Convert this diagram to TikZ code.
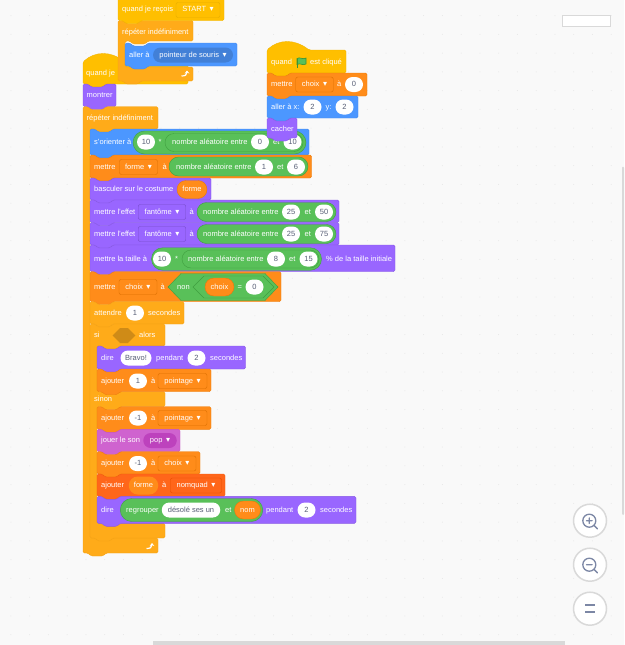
\documentclass[tikz,border=0pt]{standalone}
\usepackage{fontspec}
\setmainfont{Liberation Sans}
\newfontfamily\symbfont{DejaVu Sans}
\usetikzlibrary{shapes.misc}
\usetikzlibrary{arrows.meta}

\definecolor{bgc}{HTML}{F9F9F9}
\definecolor{dotc}{HTML}{E6E6E6}
\definecolor{motionc}{HTML}{4C97FF}
\definecolor{motiond}{HTML}{4280D7}
\definecolor{looksc}{HTML}{9966FF}
\definecolor{looksd}{HTML}{774DCB}
\definecolor{soundc}{HTML}{CF63CF}
\definecolor{soundd}{HTML}{BD42BD}
\definecolor{eventc}{HTML}{FFBF00}
\definecolor{eventd}{HTML}{E6AC00}
\definecolor{controlc}{HTML}{FFAB19}
\definecolor{controld}{HTML}{EC9C13}
\definecolor{hexc}{HTML}{CF8B17}
\definecolor{varc}{HTML}{FF8C1A}
\definecolor{vard}{HTML}{DB6E00}
\definecolor{listc}{HTML}{FF661A}
\definecolor{listd}{HTML}{E64D00}
\definecolor{opc}{HTML}{59C059}
\definecolor{opd}{HTML}{389438}
\definecolor{ovaltxt}{HTML}{575E75}
\definecolor{iconc}{HTML}{7C87A5}
\definecolor{ringc}{HTML}{D9D9D9}

\newcommand{\caret}{\hspace{3.5pt}{\symbfont\fontsize{8}{8}\selectfont ▾}}
\newcommand{\stackblock}[5]{
	\draw[#5,rounded corners=1.5] (#1,#2) -- (#1+5,#2) -- (#1+8,#2+3) -- (#1+20,#2+3) -- (#1+23,#2) -- (#3,#2) -- (#3,#4)
		-- (#1+23,#4) -- (#1+20,#4+3) -- (#1+8,#4+3) -- (#1+5,#4) -- (#1,#4) -- cycle;
}
\newcommand{\hatblock}[5]{
	\draw[#5,rounded corners=1.5] (#1,#2) .. controls (#1+12,#2-11) and (#1+28,#2-11) .. (#1+42,#2) -- (#3,#2) -- (#3,#4)
		-- (#1+23,#4) -- (#1+20,#4+3) -- (#1+8,#4+3) -- (#1+5,#4) -- (#1,#4) -- cycle;
}
\newcommand{\cblock}[7]{
	\draw[#7,rounded corners=1.5] (#1,#2) -- (#1+5,#2) -- (#1+8,#2+3) -- (#1+20,#2+3) -- (#1+23,#2) -- (#3,#2) -- (#3,#4)
		-- (#1+30,#4) -- (#1+27,#4+3) -- (#1+15,#4+3) -- (#1+12,#4) -- (#1+7,#4) -- (#1+7,#5) -- (#3,#5) -- (#3,#6)
		-- (#1+23,#6) -- (#1+20,#6+3) -- (#1+8,#6+3) -- (#1+5,#6) -- (#1,#6) -- cycle;
}

\begin{document}
\begin{tikzpicture}[
	x=1pt,
	y=-1pt,
	line width=0.4pt,
	font=\fontsize{7.5}{9}\selectfont
]
\tikzset{
	lbl/.style = {anchor=west,text=white,inner sep=0pt,text height=5.5pt,text depth=1.5pt},
	oval/.style = {rounded rectangle,fill=white,text=ovaltxt,inner sep=0pt,minimum width=18pt,minimum height=15pt,text height=5.5pt,text depth=1.5pt},
	drop/.style = {rectangle,rounded corners=2,text=white,inner sep=0pt,minimum height=15pt,text height=5.5pt,text depth=1.5pt},
	varpill/.style = {rounded rectangle,fill=varc,draw=vard!60!varc,text=white,inner sep=0pt,minimum height=18pt,text height=5.5pt,text depth=1.5pt},
	oppill/.style = {rounded rectangle,fill=opc,draw=opd!75!opc,inner sep=0pt},
	motion/.style = {fill=motionc,draw=motiond!50!motionc},
	looks/.style = {fill=looksc,draw=looksd!50!looksc},
	sound/.style = {fill=soundc,draw=soundd!50!soundc},
	event/.style = {fill=eventc,draw=eventd!50!eventc},
	control/.style = {fill=controlc,draw=controld!50!controlc},
	vars/.style = {fill=varc,draw=vard!50!varc},
	lists/.style = {fill=listc,draw=listd!50!listc},
	zoomring/.style = {circle,fill=white,draw=ringc,line width=1.5pt,minimum size=33pt,inner sep=0pt},
	zoomicon/.style = {draw=iconc,line width=1.3pt,line cap=round}
}
\useasboundingbox (0,0) rectangle (624,645);
\fill[bgc] (0,0) rectangle (624,645);
\foreach \i in {0,...,32} {
	\foreach \j in {0,...,33} {
		\fill[dotc] (10.9+18.76*\i,15.6+18.76*\j) circle (0.5);
	}
}
% left hat behind the other script
\hatblock{83}{62}{188}{84}{event}
\node[lbl] at (86,73) (hatjeL) {quand je};
% script on top
\cblock{118}{20.5}{193}{41}{67}{81}{control}
\stackblock{118}{-8}{224}{20.5}{event}
\node[lbl] at (122,10) (recoisL) {quand je reçois};
\node[drop,draw=eventd,fill=eventc,minimum width=44pt] at (198,10) (recoisD) {START\caret};
\node[lbl] at (122,32) (repeatTopL) {répéter indéfiniment};
\stackblock{125}{43}{237}{66}{motion}
\node[lbl] at (129,55) (allerL) {aller à};
\node[rounded rectangle,fill=motiond,text=white,inner sep=0pt,minimum width=80pt,minimum height=15pt,text height=5.5pt,text depth=1.5pt] at (193,55) (allerD) {pointeur de souris\caret};
\draw[white,line width=1.2pt,-{Stealth[length=3pt,width=4.5pt]}] (181.5,76) .. controls (185,76) and (187,75) .. (187,70.5);
% main script
\stackblock{83}{84}{116}{106.7}{looks}
\node[lbl] at (86.5,95) (montrerL) {montrer};
\cblock{83}{106.7}{158}{129}{538}{553}{control}
\node[lbl] at (86.5,118) (repeatL) {répéter indéfiniment};
\draw[white,line width=1.2pt,-{Stealth[length=3pt,width=4.5pt]}] (146.5,548.5) .. controls (150,548.5) and (152,547.5) .. (152,543);
%
\stackblock{90}{129}{309}{155}{motion}
\node[lbl] at (94,142) (orientL) {s'orienter à};
\node[oppill,minimum width=173pt,minimum height=23pt] at (219.5,142.5) (orientO) {};
\node[oval] at (146,142) (orientA) {10};
\node[lbl] at (158.5,142) (orientS) {*};
\node[oppill,minimum width=138pt,minimum height=18pt] at (234,142.5) (orientI) {};
\node[lbl] at (172,142) (orientR) {nombre aléatoire entre};
\node[oval] at (260,142) (orientB) {0};
\node[lbl] at (273,142) (orientE) {et};
\node[oval] at (292.5,142) (orientC) {10};
%
\stackblock{90}{155}{311.5}{178}{vars}
\node[lbl] at (94,167) (formeL) {mettre};
\node[drop,draw=vard,fill=varc,minimum width=38pt] at (138.5,167) (formeD) {forme\caret};
\node[lbl] at (162.5,167) (formeA) {à};
\node[oppill,minimum width=139pt,minimum height=19pt] at (238.5,166.5) (formeO) {};
\node[lbl] at (176,167) (formeR) {nombre aléatoire entre};
\node[oval] at (264,167) (formeB) {1};
\node[lbl] at (277,167) (formeE) {et};
\node[oval] at (296,167) (formeC) {6};
%
\stackblock{90}{178}{211}{200}{looks}
\node[lbl] at (94,189) (costumeL) {basculer sur le costume};
\node[varpill,minimum width=30pt] at (192,189.5) (costumeV) {forme};
%
\stackblock{90}{200}{339}{222.7}{looks}
\node[lbl] at (94,212) (effetAL) {mettre l'effet};
\node[drop,draw=looksd,fill=looksc,minimum width=47.5pt] at (162,212) (effetAD) {fantôme\caret};
\node[lbl] at (189.5,212) (effetAA) {à};
\node[oppill,minimum width=139pt,minimum height=19pt] at (266.5,212) (effetAO) {};
\node[lbl] at (203,212) (effetAR) {nombre aléatoire entre};
\node[oval] at (291,212) (effetAB) {25};
\node[lbl] at (304.5,212) (effetAE) {et};
\node[oval] at (324,212) (effetAC) {50};
%
\stackblock{90}{222.7}{339}{245}{looks}
\node[lbl] at (94,234) (effetBL) {mettre l'effet};
\node[drop,draw=looksd,fill=looksc,minimum width=47.5pt] at (162,234) (effetBD) {fantôme\caret};
\node[lbl] at (189.5,234) (effetBA) {à};
\node[oppill,minimum width=139pt,minimum height=19pt] at (266.5,234) (effetBO) {};
\node[lbl] at (203,234) (effetBR) {nombre aléatoire entre};
\node[oval] at (291,234) (effetBB) {25};
\node[lbl] at (304.5,234) (effetBE) {et};
\node[oval] at (324,234) (effetBC) {75};
%
\stackblock{90}{245}{395}{271.7}{looks}
\node[lbl] at (94,259) (tailleL) {mettre la taille à};
\node[oppill,minimum width=170pt,minimum height=22.5pt] at (236.5,259) (tailleO) {};
\node[oval] at (162,259) (tailleA) {10};
\node[lbl] at (175,259) (tailleS) {*};
\node[oppill,minimum width=137pt,minimum height=18pt] at (250.5,259) (tailleI) {};
\node[lbl] at (188,259) (tailleR) {nombre aléatoire entre};
\node[oval] at (276,259) (tailleB) {8};
\node[lbl] at (289,259) (tailleE) {et};
\node[oval] at (308.5,259) (tailleC) {15};
\node[lbl] at (326,259) (tailleP) {\% de la taille initiale};
%
\stackblock{90}{271.7}{281}{301.7}{vars}
\node[lbl] at (94,287) (choixL) {mettre};
\node[drop,draw=vard,fill=varc,minimum width=38pt] at (138,287) (choixD) {choix\caret};
\node[lbl] at (160.5,287) (choixA) {à};
\draw[fill=opc,draw=opd!75!opc] (168,287) -- (181,273.5) -- (265,273.5) -- (278,287) -- (265,300.5) -- (181,300.5) -- cycle;
\draw[fill=opc,draw=opd!75!opc] (193,287) -- (204,276) -- (263,276) -- (274,287) -- (263,298) -- (204,298) -- cycle;
\node[lbl] at (177,287) (choixN) {non};
\node[varpill,minimum width=29pt] at (219.5,287) (choixV) {choix};
\node[lbl] at (237.5,287) (choixQ) {=};
\node[oval] at (254.5,287) (choixZ) {0};
%
\stackblock{90}{301.7}{184}{324}{control}
\node[lbl] at (94,313) (attendreL) {attendre};
\node[oval] at (135,313) (attendreA) {1};
\node[lbl] at (148,313) (attendreS) {secondes};
% si alors sinon
\draw[control,rounded corners=1.5] (90,324) -- (95,324) -- (98,327) -- (110,327) -- (113,324) -- (165,324) -- (165,346)
	-- (120,346) -- (117,349) -- (105,349) -- (102,346) -- (97,346) -- (97,391.7) -- (165,391.7) -- (165,406.7)
	-- (120,406.7) -- (117,409.7) -- (105,409.7) -- (102,406.7) -- (97,406.7) -- (97,523.3) -- (165,523.3) -- (165,538)
	-- (113,538) -- (110,541) -- (98,541) -- (95,538) -- (90,538) -- cycle;
\node[lbl] at (94,335) (siL) {si};
\draw[fill=hexc,draw=none] (112.7,335.5) -- (120,328) -- (128,328) -- (135.3,335.5) -- (128,343) -- (120,343) -- cycle;
\node[lbl] at (139,335) (alorsL) {alors};
\node[lbl] at (94,399) (sinonL) {sinon};
%
\stackblock{97}{346}{245.5}{369}{looks}
\node[lbl] at (101,358) (direAL) {dire};
\node[oval,minimum width=31pt] at (136,358) (direAT) {Bravo!};
\node[lbl] at (156,358) (direAP) {pendant};
\node[oval] at (196.5,358) (direAN) {2};
\node[lbl] at (210,358) (direAS) {secondes};
%
\stackblock{97}{369}{211}{391.7}{vars}
\node[lbl] at (101,381) (ajoutAL) {ajouter};
\node[oval] at (138,381) (ajoutAN) {1};
\node[lbl] at (151,381) (ajoutAA) {à};
\node[drop,draw=vard,fill=varc,minimum width=49pt] at (182.5,381) (ajoutAD) {pointage\caret};
%
\stackblock{97}{406.7}{211}{429.3}{vars}
\node[lbl] at (101,418) (ajoutBL) {ajouter};
\node[oval] at (138,418) (ajoutBN) {-1};
\node[lbl] at (151,418) (ajoutBA) {à};
\node[drop,draw=vard,fill=varc,minimum width=49pt] at (182.5,418) (ajoutBD) {pointage\caret};
%
\stackblock{97}{429.3}{180}{451.7}{sound}
\node[lbl] at (101,440.5) (sonL) {jouer le son};
\node[rounded rectangle,fill=soundd,text=white,inner sep=0pt,minimum width=33.5pt,minimum height=15pt,text height=5.5pt,text depth=1.5pt] at (160,440.5) (sonD) {pop\caret};
%
\stackblock{97}{451.7}{200}{474}{vars}
\node[lbl] at (101,463.5) (ajoutCL) {ajouter};
\node[oval] at (138,463.5) (ajoutCN) {-1};
\node[lbl] at (151,463.5) (ajoutCA) {à};
\node[drop,draw=vard,fill=varc,minimum width=38pt] at (177,463.5) (ajoutCD) {choix\caret};
%
\stackblock{97}{474}{225}{496.3}{lists}
\node[lbl] at (101,485.5) (ajoutDL) {ajouter};
\node[varpill,minimum width=29.5pt,draw=none] at (143.5,485.5) (ajoutDV) {forme};
\node[lbl] at (162,485.5) (ajoutDA) {à};
\node[drop,draw=listd,fill=listc,minimum width=51pt] at (196,485.5) (ajoutDD) {nomquad\caret};
%
\stackblock{97}{496.3}{356}{523.3}{looks}
\node[lbl] at (101,510) (direBL) {dire};
\node[oppill,minimum width=142.5pt,minimum height=23pt] at (191.5,510) (direBO) {};
\node[lbl] at (126,510) (direBR) {regrouper};
\node[oval,minimum width=58.5pt] at (191,510) (direBT) {désolé ses un};
\node[lbl] at (225,510) (direBE) {et};
\node[varpill,minimum width=26pt] at (247.5,510) (direBV) {nom};
\node[lbl] at (266,510) (direBP) {pendant};
\node[oval] at (306.5,510) (direBN) {2};
\node[lbl] at (320,510) (direBS) {secondes};
% right script
\hatblock{267}{50}{346}{73}{event}
\node[lbl] at (271,62) (quandL) {quand};
\node[lbl] at (310,62) (cliqueL) {est cliqué};
\draw[fill=opc,draw=opd,line width=0.6pt] (297,58.5) .. controls (300,56.5) and (302.5,60) .. (306,58) -- (306,64) .. controls (302.5,66) and (300,62.5) .. (297,64.5) -- cycle;
\draw[opd,line width=0.9pt] (297,58.5) -- (297,68);
\stackblock{267}{73}{367}{96}{vars}
\node[lbl] at (271,84.5) (mettreL) {mettre};
\node[drop,draw=vard,fill=varc,minimum width=37.5pt] at (314.5,84.5) (mettreD) {choix\caret};
\node[lbl] at (337,84.5) (mettreA) {à};
\node[oval] at (354,84.5) (mettreN) {0};
\stackblock{267}{96}{358}{118}{motion}
\node[lbl] at (271,107) (gotoL) {aller à x:};
\node[oval] at (312.5,107) (gotoX) {2};
\node[lbl] at (325.5,107) (gotoY) {y:};
\node[oval] at (344.5,107) (gotoV) {2};
\stackblock{267}{118}{297}{138}{looks}
\node[lbl] at (271,129) (cacherL) {cacher};
% workspace widgets
\node[rectangle,fill=white,draw=ringc,line width=1pt,minimum width=48pt,minimum height=11pt,inner sep=0pt] at (586,21) (bumpbox) {};
\fill[ringc] (153,641) rectangle (565,645);
\fill[ringc,rounded corners=1] (622,166.7) rectangle (624,515);
\node[zoomring] at (590,520.7) (zoomin) {};
\draw[zoomicon] (589.3,520.7) circle (6.5) (593.9,525.3) -- (597.5,528.9) (586.5,520.7) -- (592.1,520.7) (589.3,517.9) -- (589.3,523.5);
\node[zoomring] at (590,564.7) (zoomout) {};
\draw[zoomicon] (589.3,564.7) circle (6.5) (593.9,569.3) -- (597.5,572.9) (586.5,564.7) -- (592.1,564.7);
\node[zoomring] at (590,608.7) (zoomreset) {};
\draw[zoomicon,line width=1.8pt,line cap=butt] (585,605.2) -- (595,605.2) (585,611.7) -- (595,611.7);
\end{tikzpicture}
\end{document}
